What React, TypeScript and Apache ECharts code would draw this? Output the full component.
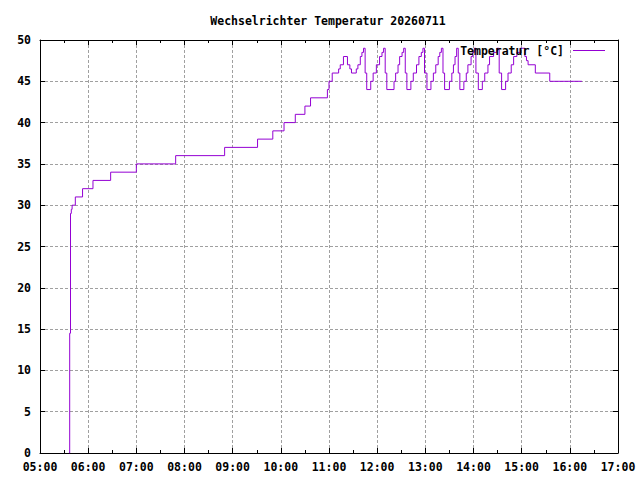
import React, { useEffect, useRef } from "react";
import * as echarts from "echarts";

const chartTitle = "Wechselrichter Temperatur 20260711";
const seriesName = "Temperatur [°C]";

const xMin = "05:00";
const xMax = "17:00";
const yMin = 0;
const yMax = 50;
const yStep = 5;

const times = [
  "05:36", "05:37", "05:38", "05:39", "05:40", "05:44", "05:53", "06:06", "06:28", "07:00",
  "07:49", "08:50", "09:31", "09:50", "10:04", "10:18", "10:30", "10:37", "10:58", "11:00",
  "11:04", "11:12", "11:14", "11:18", "11:23", "11:26", "11:28", "11:34", "11:36", "11:39",
  "11:41", "11:43", "11:45", "11:47", "11:52", "11:55", "11:59", "12:03", "12:06", "12:08",
  "12:10", "12:12", "12:21", "12:23", "12:26", "12:28", "12:31", "12:33", "12:35", "12:37",
  "12:42", "12:45", "12:49", "12:52", "12:55", "12:57", "12:59", "13:02", "13:07", "13:10",
  "13:13", "13:16", "13:18", "13:20", "13:22", "13:24", "13:30", "13:33", "13:35", "13:37",
  "13:39", "13:41", "13:43", "13:48", "13:51", "13:53", "13:57", "13:59", "14:01", "14:03",
  "14:06", "14:11", "14:14", "14:18", "14:20", "14:25", "14:29", "14:32", "14:35", "14:40",
  "14:43", "14:47", "14:50", "14:54", "14:58", "15:04", "15:06", "15:08", "15:17", "15:35",
  "16:15",
];

const temps = [
  0, 14.5, 29, 29.5, 30, 31, 32, 33, 34, 35,
  36, 37, 38, 39, 40, 41, 42, 43, 44, 45,
  46, 46.5, 47, 48, 47, 46.5, 46, 46.5, 47, 48,
  48.5, 49, 46, 44, 45, 46, 47, 48, 48.5, 49,
  46, 44, 45, 46, 47, 48, 48.5, 49, 46, 44,
  45, 46, 47, 48, 48.5, 49, 46, 44, 45, 46,
  47, 48, 48.5, 49, 46, 44, 45, 46, 47, 48,
  49, 46, 44, 45, 46, 47, 48, 48.5, 49, 46,
  44, 45, 46, 47, 48, 48.5, 49, 46, 44, 45,
  46, 47, 48, 48.5, 49, 48, 47.5, 47, 46, 45,
  45,
];

const FONT = "DejaVu Sans Mono";
const LINE_COLOR = "#9400d3";

function toMin(s: string): number {
  const [h, m] = s.split(":").map(Number);
  return h * 60 + m;
}
function fmt(v: number): string {
  const h = Math.floor(v / 60);
  const m = Math.round(v % 60);
  return String(h).padStart(2, "0") + ":" + String(m).padStart(2, "0");
}

export default function App() {
  const ref = useRef<HTMLDivElement>(null);
  useEffect(() => {
    if (!ref.current) return;
    const chart = echarts.init(ref.current, undefined, { renderer: "svg" });
    const data = times.map((t, i) => [toMin(t), temps[i]]);
    const labelStyle = {
      color: "#000",
      fontFamily: FONT,
      fontSize: 11.5,
      fontWeight: "bold" as const,
    };
    const axisLine = { show: true, onZero: false, lineStyle: { color: "#000", width: 1 } };
    const tick = { show: true, inside: true, length: 5, lineStyle: { color: "#000", width: 1 } };
    const grid = { show: true, lineStyle: { color: "#a0a0a0", width: 1, type: [3, 2] } };
    const xBase = { type: "value" as const, min: toMin(xMin), max: toMin(xMax), interval: 60 };
    const yBase = { type: "value" as const, min: yMin, max: yMax, interval: yStep };
    chart.setOption({
      animation: false,
      grid: { left: 40, right: 22, top: 40, bottom: 27, containLabel: false },
      xAxis: [
        {
          ...xBase,
          position: "bottom",
          axisLine,
          axisTick: tick,
          minorTick: { show: true, splitNumber: 2, length: 3, lineStyle: { color: "#000" } },
          splitLine: grid,
          axisLabel: { ...labelStyle, margin: 8, formatter: (v: number) => fmt(v), showMinLabel: true, showMaxLabel: true },
        },
        {
          ...xBase,
          position: "top",
          axisLine,
          axisTick: tick,
          minorTick: { show: true, splitNumber: 2, length: 3, lineStyle: { color: "#000" } },
          splitLine: { show: false },
          axisLabel: { show: false },
        },
      ],
      yAxis: [
        {
          ...yBase,
          position: "left",
          axisLine,
          axisTick: tick,
          splitLine: grid,
          axisLabel: { ...labelStyle, margin: 9, showMinLabel: true, showMaxLabel: true },
        },
        {
          ...yBase,
          position: "right",
          axisLine,
          axisTick: tick,
          splitLine: { show: false },
          axisLabel: { show: false },
        },
      ],
      series: [
        {
          name: seriesName,
          type: "line",
          xAxisIndex: 0,
          yAxisIndex: 0,
          data,
          step: "end",
          symbol: "none",
          showSymbol: false,
          lineStyle: { color: LINE_COLOR, width: 1 },
          z: 5,
        },
      ],
      graphic: [
        {
          type: "text",
          x: 328,
          y: 21,
          style: {
            text: chartTitle,
            fill: "#000",
            font: `bold 11.5px "${FONT}"`,
            textAlign: "center",
            textVerticalAlign: "middle",
          },
        },
        {
          type: "text",
          x: 564,
          y: 51,
          z: 10,
          style: {
            text: seriesName,
            fill: "#000",
            font: `bold 11.5px "${FONT}"`,
            textAlign: "right",
            textVerticalAlign: "middle",
          },
        },
        {
          type: "line",
          z: 10,
          shape: { x1: 573, y1: 50.5, x2: 605, y2: 50.5 },
          style: { stroke: LINE_COLOR, lineWidth: 1 },
        },
      ],
    });
    return () => chart.dispose();
  }, []);
  return (
    <div
      ref={ref}
      style={{ position: "fixed", left: 0, top: 0, width: 640, height: 480, background: "#fff" }}
    />
  );
}
